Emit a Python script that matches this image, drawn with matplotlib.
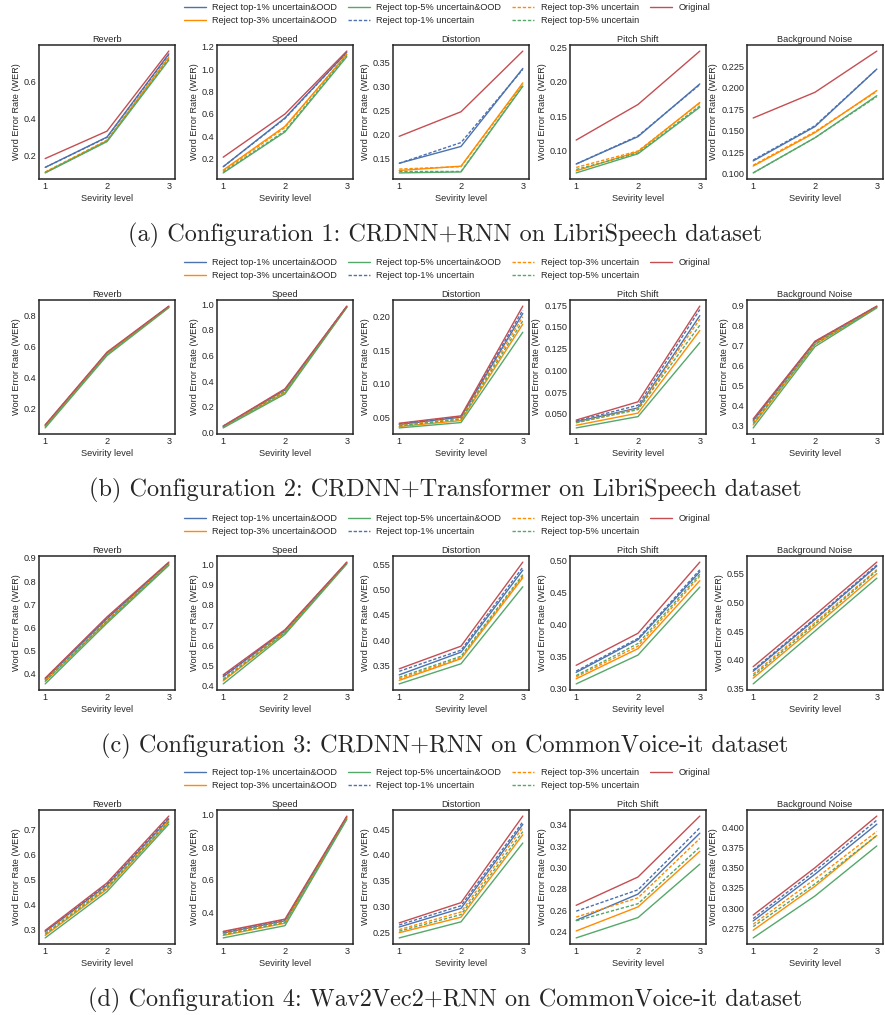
import matplotlib
matplotlib.use("Agg")
import matplotlib.pyplot as plt

plt.style.use("seaborn-v0_8-white")
plt.rcParams["font.family"] = ["Liberation Sans", "DejaVu Sans"]
plt.rcParams["axes.edgecolor"] = ".15"
plt.rcParams["axes.linewidth"] = 1.1

levels = [1, 2, 3]
noises = ["Reverb", "Speed", "Distortion", "Pitch Shift", "Background Noise"]
labels = ["Reject top-1% uncertain&OOD", "Reject top-3% uncertain&OOD",
          "Reject top-5% uncertain&OOD", "Reject top-1% uncertain",
          "Reject top-3% uncertain", "Reject top-5% uncertain", "Original"]
captions = ["(a) Configuration 1: CRDNN+RNN on LibriSpeech dataset",
            "(b) Configuration 2: CRDNN+Transformer on LibriSpeech dataset",
            "(c) Configuration 3: CRDNN+RNN on CommonVoice-it dataset",
            "(d) Configuration 4: Wav2Vec2+RNN on CommonVoice-it dataset"]

# rows in each block: OOD1, OOD3, OOD5, U1, U3, U5, Original
c1_reverb = [[0.135, 0.300, 0.752], [0.108, 0.280, 0.735], [0.105, 0.275, 0.718],
             [0.135, 0.298, 0.748], [0.110, 0.283, 0.730], [0.107, 0.278, 0.722],
             [0.183, 0.332, 0.767]]
c1_speed = [[0.13, 0.565, 1.150], [0.10, 0.490, 1.130], [0.075, 0.440, 1.110],
            [0.13, 0.560, 1.148], [0.09, 0.480, 1.135], [0.080, 0.450, 1.120],
            [0.215, 0.600, 1.160]]
c1_distortion = [[0.140, 0.175, 0.337], [0.125, 0.134, 0.307], [0.120, 0.122, 0.300],
                 [0.140, 0.183, 0.335], [0.128, 0.133, 0.305], [0.123, 0.123, 0.301],
                 [0.196, 0.247, 0.373]]
c1_pitch = [[0.080, 0.120, 0.197], [0.070, 0.098, 0.170], [0.067, 0.095, 0.163],
            [0.080, 0.121, 0.196], [0.075, 0.099, 0.169], [0.072, 0.096, 0.165],
            [0.115, 0.167, 0.245]]
c1_bg = [[0.115, 0.155, 0.222], [0.109, 0.148, 0.197], [0.101, 0.142, 0.191],
         [0.116, 0.156, 0.222], [0.110, 0.149, 0.196], [0.101, 0.142, 0.190],
         [0.165, 0.195, 0.243]]

c2_reverb = [[0.090, 0.555, 0.855], [0.083, 0.547, 0.851], [0.075, 0.540, 0.848],
             [0.092, 0.558, 0.856], [0.087, 0.552, 0.853], [0.085, 0.550, 0.852],
             [0.095, 0.562, 0.858]]
c2_speed = [[0.047, 0.330, 0.982], [0.040, 0.310, 0.978], [0.035, 0.300, 0.975],
            [0.048, 0.335, 0.983], [0.045, 0.322, 0.980], [0.043, 0.318, 0.979],
            [0.050, 0.340, 0.985]]
c2_distortion = [[0.039, 0.050, 0.205], [0.036, 0.045, 0.189], [0.034, 0.042, 0.177],
                 [0.040, 0.051, 0.210], [0.038, 0.048, 0.200], [0.037, 0.047, 0.194],
                 [0.041, 0.052, 0.216]]
c2_pitch = [[0.041, 0.057, 0.163], [0.037, 0.051, 0.146], [0.034, 0.047, 0.132],
            [0.042, 0.060, 0.170], [0.040, 0.056, 0.159], [0.040, 0.055, 0.152],
            [0.043, 0.064, 0.174]]
c2_bg = [[0.325, 0.716, 0.895], [0.305, 0.705, 0.891], [0.290, 0.695, 0.888],
         [0.330, 0.720, 0.896], [0.318, 0.712, 0.893], [0.312, 0.708, 0.892],
         [0.335, 0.722, 0.897]]

c3_reverb = [[0.375, 0.637, 0.878], [0.365, 0.625, 0.872], [0.355, 0.618, 0.868],
             [0.378, 0.640, 0.880], [0.370, 0.630, 0.875], [0.367, 0.627, 0.873],
             [0.380, 0.645, 0.882]]
c3_speed = [[0.445, 0.672, 1.010], [0.425, 0.662, 1.006], [0.410, 0.655, 1.003],
            [0.450, 0.675, 1.010], [0.435, 0.668, 1.008], [0.430, 0.665, 1.007],
            [0.455, 0.678, 1.012]]
c3_distortion = [[0.331, 0.376, 0.539], [0.320, 0.363, 0.524], [0.313, 0.353, 0.506],
                 [0.338, 0.380, 0.545], [0.323, 0.365, 0.527], [0.326, 0.368, 0.530],
                 [0.343, 0.388, 0.555]]
c3_pitch = [[0.325, 0.376, 0.482], [0.315, 0.362, 0.468], [0.307, 0.352, 0.458],
            [0.327, 0.378, 0.485], [0.318, 0.366, 0.475], [0.320, 0.370, 0.478],
            [0.336, 0.386, 0.497]]
c3_bg = [[0.380, 0.470, 0.563], [0.368, 0.458, 0.550], [0.358, 0.450, 0.542],
         [0.382, 0.472, 0.565], [0.375, 0.465, 0.557], [0.372, 0.462, 0.555],
         [0.388, 0.478, 0.570]]

c4_reverb = [[0.290, 0.475, 0.740], [0.275, 0.460, 0.728], [0.265, 0.450, 0.720],
             [0.292, 0.480, 0.745], [0.285, 0.470, 0.735], [0.280, 0.465, 0.730],
             [0.295, 0.485, 0.752]]
c4_speed = [[0.275, 0.350, 0.985], [0.260, 0.335, 0.975], [0.245, 0.320, 0.970],
            [0.280, 0.355, 0.985], [0.270, 0.345, 0.980], [0.265, 0.340, 0.978],
            [0.285, 0.360, 0.990]]
c4_distortion = [[0.261, 0.297, 0.459], [0.250, 0.280, 0.439], [0.240, 0.271, 0.423],
                 [0.265, 0.302, 0.464], [0.256, 0.290, 0.453], [0.253, 0.285, 0.445],
                 [0.269, 0.308, 0.475]]
c4_pitch = [[0.2505, 0.275, 0.332], [0.2405, 0.263, 0.315], [0.234, 0.253, 0.303],
            [0.259, 0.279, 0.337], [0.2535, 0.2715, 0.327], [0.250, 0.266, 0.319],
            [0.2645, 0.291, 0.348]]
c4_bg = [[0.284, 0.342, 0.404], [0.2725, 0.327, 0.390], [0.263, 0.315, 0.377],
         [0.287, 0.346, 0.409], [0.280, 0.336, 0.395], [0.277, 0.330, 0.390],
         [0.2914, 0.350, 0.414]]

yticks = [
    [[0.2, 0.4, 0.6], [0.2, 0.4, 0.6, 0.8, 1.0, 1.2], [0.15, 0.20, 0.25, 0.30, 0.35],
     [0.10, 0.15, 0.20, 0.25], [0.100, 0.125, 0.150, 0.175, 0.200, 0.225]],
    [[0.2, 0.4, 0.6, 0.8], [0.0, 0.2, 0.4, 0.6, 0.8, 1.0], [0.05, 0.10, 0.15, 0.20],
     [0.050, 0.075, 0.100, 0.125, 0.150, 0.175], [0.3, 0.4, 0.5, 0.6, 0.7, 0.8, 0.9]],
    [[0.4, 0.5, 0.6, 0.7, 0.8, 0.9], [0.4, 0.5, 0.6, 0.7, 0.8, 0.9, 1.0],
     [0.35, 0.40, 0.45, 0.50, 0.55], [0.30, 0.35, 0.40, 0.45, 0.50],
     [0.35, 0.40, 0.45, 0.50, 0.55]],
    [[0.3, 0.4, 0.5, 0.6, 0.7], [0.4, 0.6, 0.8, 1.0], [0.25, 0.30, 0.35, 0.40, 0.45],
     [0.24, 0.26, 0.28, 0.30, 0.32, 0.34], [0.275, 0.300, 0.325, 0.350, 0.375, 0.400]],
]

configs = [
    [c1_reverb, c1_speed, c1_distortion, c1_pitch, c1_bg],
    [c2_reverb, c2_speed, c2_distortion, c2_pitch, c2_bg],
    [c3_reverb, c3_speed, c3_distortion, c3_pitch, c3_bg],
    [c4_reverb, c4_speed, c4_distortion, c4_pitch, c4_bg],
]

blue, orange, green, red = "#4C72B0", "#FF8C00", "#55A868", "#C44E52"
colors = [blue, orange, green, blue, orange, green, red]
dash = (0, (2.4, 1.3))
styles = ["-", "-", "-", dash, dash, dash, "-"]

W, H = 885, 1015
fig = plt.figure(figsize=(W / 100, H / 100), dpi=100)

lefts = [39, 217, 393, 570, 747]
tops = [45, 300, 556, 810]
aw, ah = 136, 134
fs = 6.6

for r, blocks in enumerate(configs):
    handles = []
    for c, block in enumerate(blocks):
        ax = fig.add_axes([lefts[c] / W, 1 - (tops[r] + ah) / H, aw / W, ah / H])
        for i, vals in enumerate(block):
            ln, = ax.plot(levels, vals, color=colors[i], ls=styles[i], lw=1.0,
                          label=labels[i])
            if c == 0:
                handles.append(ln)
        ax.set_xticks(levels)
        ax.set_yticks(yticks[r][c])
        ax.tick_params(labelsize=fs, pad=2, length=0, colors=".15")
        ax.set_title(noises[c], fontsize=fs, pad=2.5, color=".15")
        ax.set_xlabel("Sevirity level", fontsize=fs, labelpad=2, color=".15")
        ax.set_ylabel("Word Error Rate (WER)", fontsize=fs, labelpad=2, color=".15")
    fig.legend(handles=handles, ncol=4, loc="center", frameon=False, fontsize=fs,
               bbox_to_anchor=(0.505, 1 - (tops[r] - 31) / H),
               handlelength=2.4, columnspacing=1.2, labelspacing=0.45,
               handletextpad=0.7)
    fig.text(0.503, 1 - (tops[r] + 190) / H, captions[r], ha="center", va="center",
             fontsize=17.5, family="cmr10")

fig.savefig("out.png", dpi=100)
